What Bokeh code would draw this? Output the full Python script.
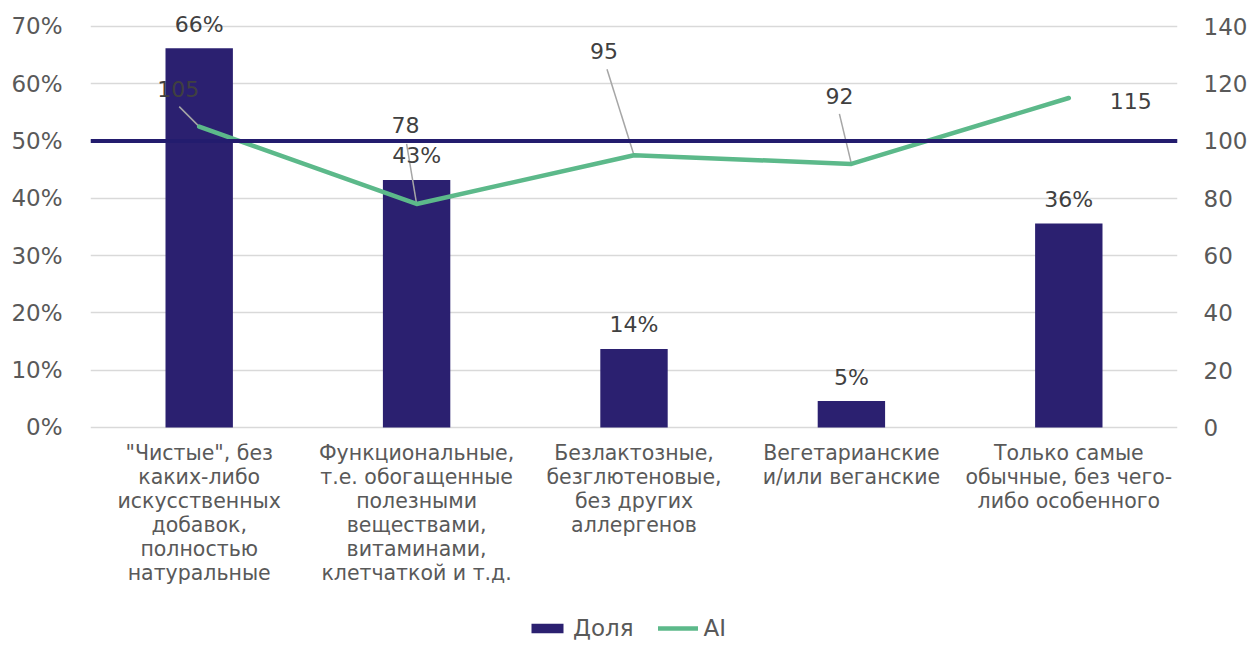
from bokeh.plotting import figure
from bokeh.models import (ColumnDataSource, LinearAxis, Range1d, Span, LabelSet,
                          Legend, LegendItem, FixedTicker)
from bokeh.core.properties import value
from bokeh.embed import file_html
from bokeh.resources import INLINE

categories = [
    '"Чистые", без\nкаких-либо\nискусственных\nдобавок,\nполностью\nнатуральные',
    'Функциональные,\nт.е. обогащенные\nполезными\nвеществами,\nвитаминами,\nклетчаткой и т.д.',
    'Безлактозные,\nбезглютеновые,\nбез других\nаллергенов',
    'Вегетарианские\nи/или веганские',
    'Только самые\nобычные, без чего-\nлибо особенного',
]
share = [0.662, 0.432, 0.137, 0.046, 0.356]
ai = [105, 78, 95, 92, 115]
left_ticks = [0, 0.1, 0.2, 0.3, 0.4, 0.5, 0.6, 0.7]
right_ticks = [0, 20, 40, 60, 80, 100, 120, 140]
ref_level = 0.5

# label placement (pixels, screen: +x right, +y up)
ai_lbl_dx = [-21, -11, -30, -12, 62]
ai_lbl_dy = [38, 79, 104, 68, -3]
lead_dx = [-20, -10, -27, -12]
lead_dy = [20, 60, 86, 50]
CAT_FIRST = -26        # offset of first category line centre below zero
CAT_STEP = 24          # line spacing of category labels

FONT = "DejaVu Sans"
BAR = "#2b2070"
GREEN = "#5cb98a"
NAVY = "#231c6e"
TXT = "#404040"
TICK = "#595959"

# the frame also covers the category-label and legend area below zero
Y_TOP, Y_BOT = 0.74, -0.4
AI_RATIO = 200          # 0.7 on the left axis corresponds to 140 on the right
K = 401 / 0.7           # pixels per unit of share
FW, FH = 1087, round((Y_TOP - Y_BOT) * K)
x = list(range(len(categories)))

p = figure(frame_width=FW, frame_height=FH, output_backend="svg", toolbar_location=None,
           x_range=Range1d(-0.5, len(categories) - 0.5), y_range=Range1d(Y_BOT, Y_TOP),
           min_border_left=90, min_border_right=61, min_border_top=3, min_border_bottom=0)
p.outline_line_color = None
p.background_fill_color = "white"
p.border_fill_color = "white"
p.extra_y_ranges = {"ai": Range1d(Y_BOT * AI_RATIO, Y_TOP * AI_RATIO)}
p.xaxis.visible = False

ya = p.yaxis[0]
ya.ticker = FixedTicker(ticks=left_ticks)
ya.major_label_overrides = {t: f"{round(t*100)}%" for t in left_ticks}
ya.axis_line_color = None
ya.major_tick_line_color = None
ya.minor_tick_line_color = None
ya.major_label_text_font = FONT
ya.major_label_text_font_size = "23px"
ya.major_label_text_color = TICK
ya.major_label_standoff = 22

ra = LinearAxis(y_range_name="ai", ticker=FixedTicker(ticks=right_ticks))
ra.axis_line_color = None
ra.major_tick_line_color = None
ra.minor_tick_line_color = None
ra.major_label_text_font = FONT
ra.major_label_text_font_size = "23px"
ra.major_label_text_color = TICK
ra.major_label_standoff = 20
p.add_layout(ra, "right")

p.xgrid.grid_line_color = None
p.ygrid.ticker = FixedTicker(ticks=left_ticks)
p.ygrid.grid_line_color = "#d9d9d9"
p.ygrid.grid_line_width = 1.5

# data
src = ColumnDataSource(dict(
    x=x, share=share, ai=ai,
    share_lbl=[f"{round(v*100)}%" for v in share],
    ai_lbl=[str(v) for v in ai],
    dx=ai_lbl_dx, dy=ai_lbl_dy,
))
bars = p.vbar(x="x", top="share", bottom=0, width=0.31, source=src, fill_color=BAR,
              line_color=None)

p.add_layout(Span(location=ref_level, dimension="width", line_color=NAVY, line_width=4))

# leader lines
px_x = len(categories) / FW
px_y = AI_RATIO / K
lsrc = ColumnDataSource(dict(
    x0=[x[i] + lead_dx[i] * px_x for i in range(len(lead_dx))],
    y0=[ai[i] + lead_dy[i] * px_y for i in range(len(lead_dx))],
    x1=x[:len(lead_dx)], y1=ai[:len(lead_dx)],
))
p.segment(x0="x0", y0="y0", x1="x1", y1="y1", source=lsrc, y_range_name="ai",
          line_color="#a6a6a6", line_width=1.5)

line = p.line(x="x", y="ai", source=src, y_range_name="ai", line_color=GREEN,
              line_width=4.5, line_join="round", line_cap="round")

p.add_layout(LabelSet(x="x", y="share", text="share_lbl", source=src, y_offset=24,
                      text_align="center", text_baseline="middle", text_font=value(FONT),
                      text_font_size=value("22px"), text_color=value(TXT)))
p.add_layout(LabelSet(x="x", y="ai", text="ai_lbl", source=src, y_range_name="ai",
                      x_offset="dx", y_offset="dy", text_align="center",
                      text_baseline="middle", text_font=value(FONT),
                      text_font_size=value("22px"), text_color=value(TXT)))

# category labels under the bars, one centred line at a time
cx, cy, ct, coff = [], [], [], []
for i, c in enumerate(categories):
    for j, ln in enumerate(c.split("\n")):
        cx.append(i)
        cy.append(0)
        ct.append(ln)
        coff.append(CAT_FIRST - j * CAT_STEP)
csrc = ColumnDataSource(dict(x=cx, y=cy, text=ct, off=coff))
p.add_layout(LabelSet(x="x", y="y", text="text", source=csrc, y_offset="off",
                      text_align="center", text_baseline="middle", text_font=value(FONT),
                      text_font_size=value("20.5px"), text_color=value(TICK)))

legend = Legend(items=[LegendItem(label="Доля", renderers=[bars]),
                       LegendItem(label="AI", renderers=[line])],
                orientation="horizontal", location=(437, 15),
                glyph_width=40, glyph_height=12, label_text_font=FONT,
                label_text_font_size="23px", label_text_color=TICK,
                spacing=24, label_standoff=6, border_line_color=None,
                background_fill_alpha=0, margin=0, padding=0)
p.add_layout(legend, "center")

open("out.html", "w").write(file_html(p, INLINE))
